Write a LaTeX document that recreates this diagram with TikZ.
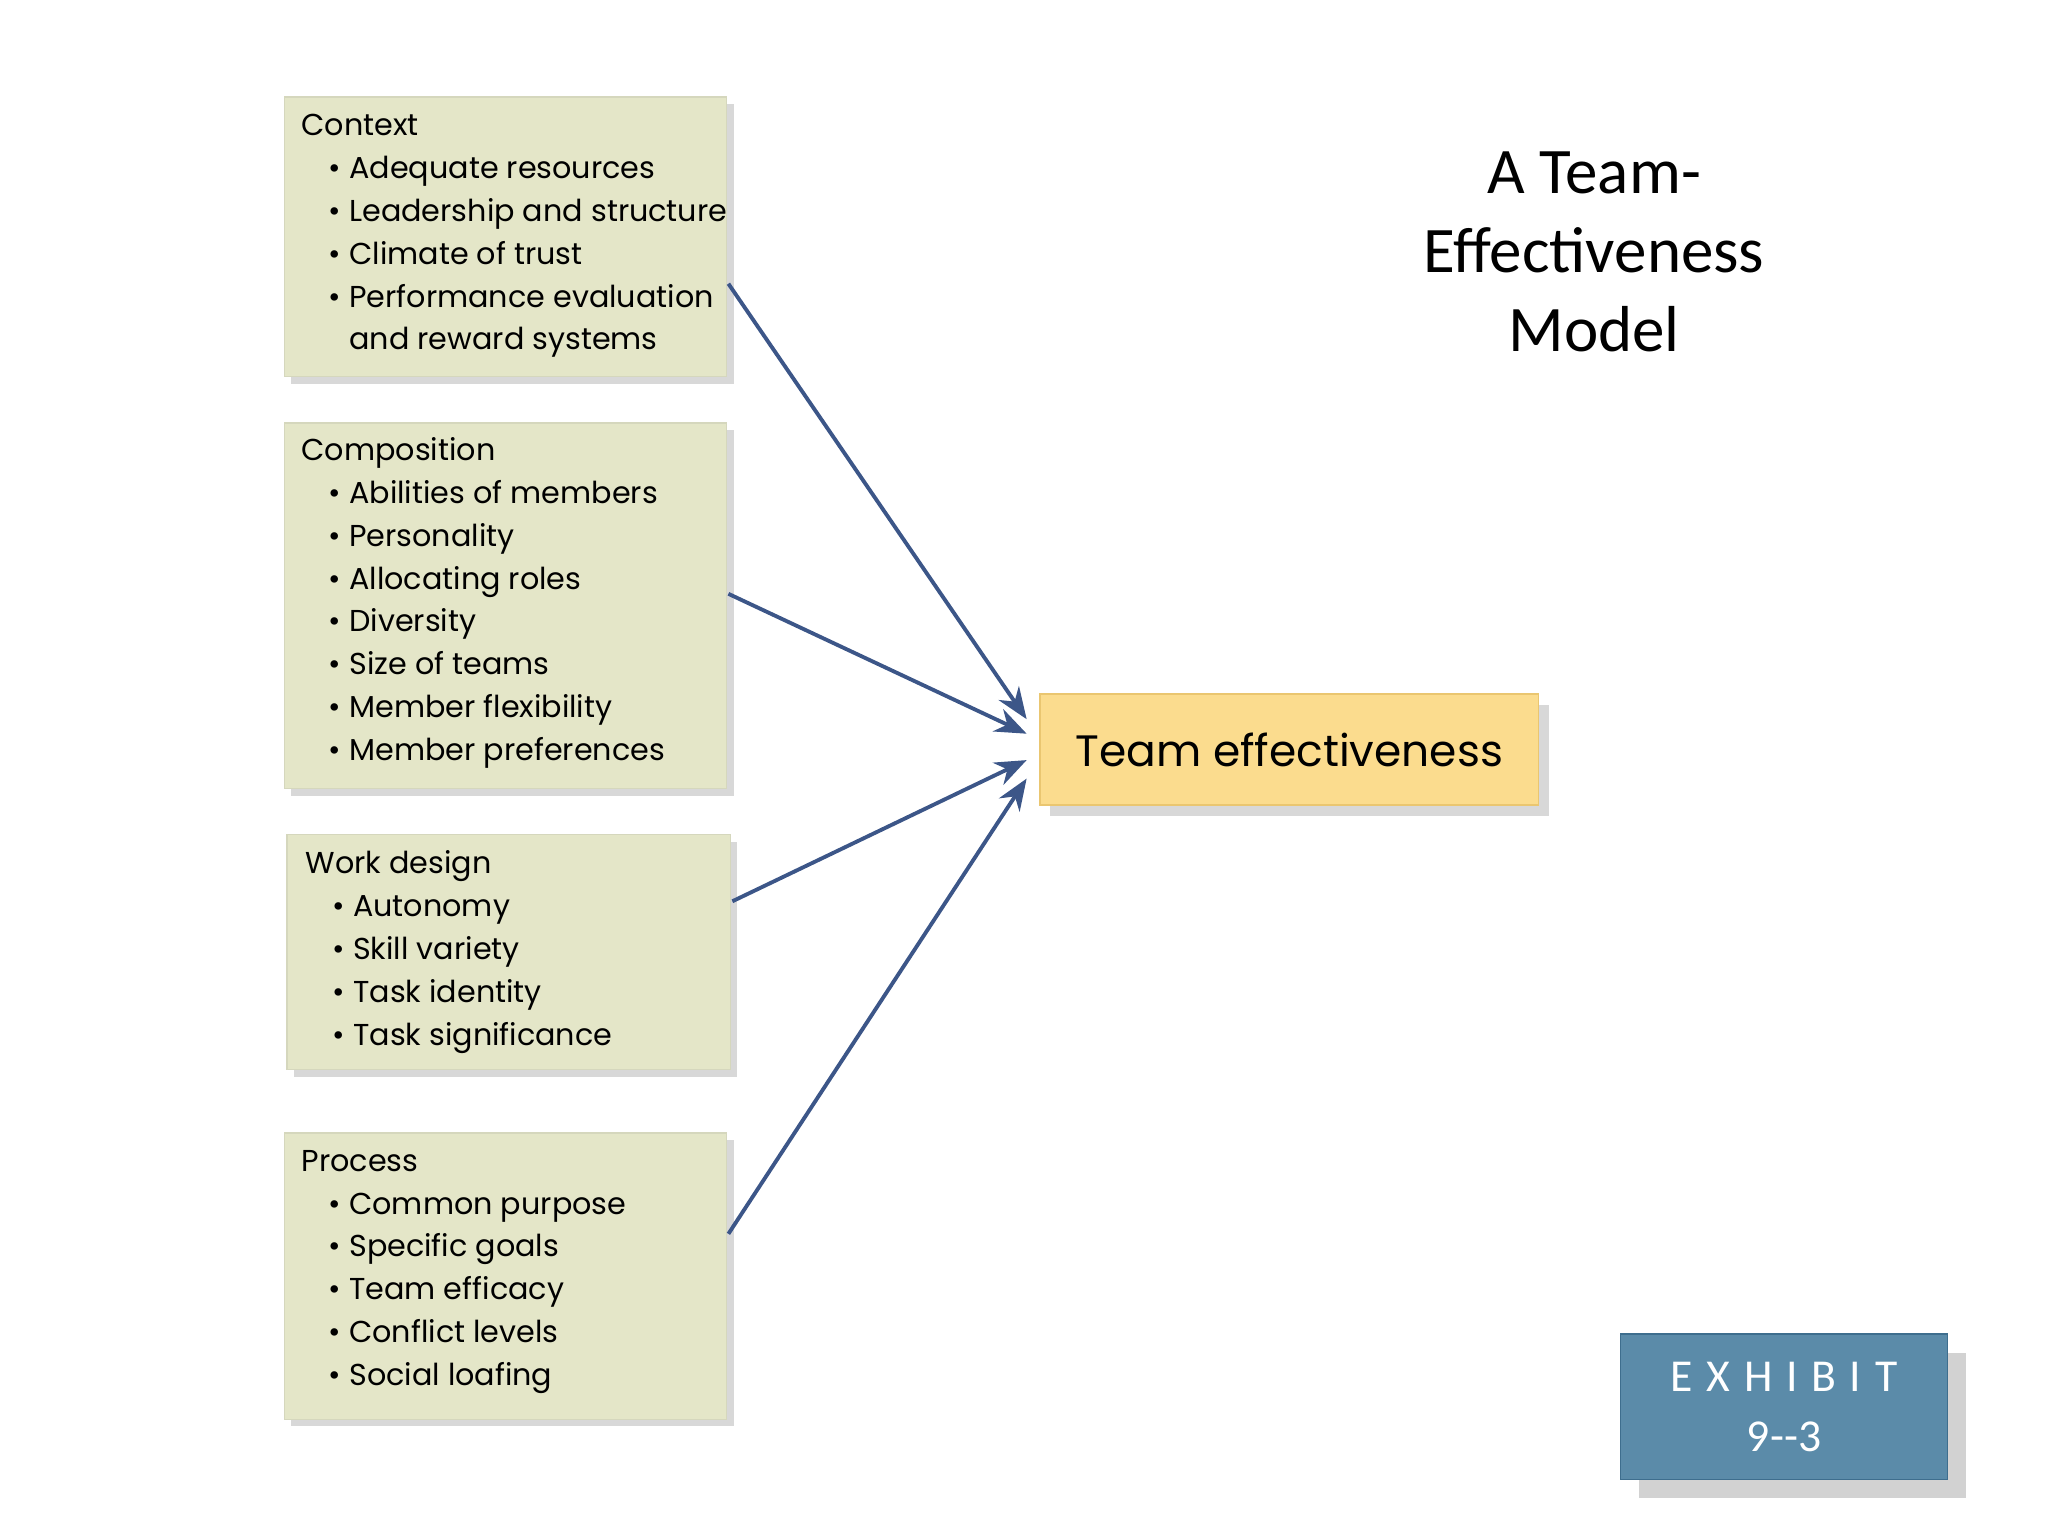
\documentclass[tikz,border=0pt]{standalone}
\usepackage{fontspec}
\setmainfont{Poppins}
\newfontfamily\calib{Carlito}
\usetikzlibrary{shadows,arrows.meta}
\definecolor{boxfill}{HTML}{E4E6C8}
\definecolor{teamfill}{HTML}{FBDC8E}
\definecolor{teamdraw}{HTML}{EAC670}
\definecolor{exfill}{HTML}{5B8BA9}
\definecolor{exdraw}{HTML}{3E6E8E}
\definecolor{arr}{HTML}{3C5688}
\tikzset{
 factor/.style={fill=boxfill, draw=boxfill!85!gray, anchor=north west, inner sep=0pt,
   drop shadow={shadow xshift=2pt, shadow yshift=-2pt, fill=gray!60, opacity=.5}},
 ftext/.style={anchor=north west, align=left, inner sep=0pt, font=\fontsize{8.6}{12.2}\selectfont},
 link/.style={draw=arr, line width=1.1pt, -{Stealth[length=9pt,width=7pt]}}
}
\newcommand{\bl}{\hspace*{0.9em}\textbullet\ }
\begin{document}
\begin{tikzpicture}[x=0.013196cm,y=-0.013196cm]
\useasboundingbox (0,0) rectangle (1552,1164);
% boxes
\node[factor, minimum width=335*0.013196cm, minimum height=212*0.013196cm] (ctx) at (215,73) {};
\node[factor, minimum width=335*0.013196cm, minimum height=277*0.013196cm] (cmp) at (215,320) {};
\node[factor, minimum width=336*0.013196cm, minimum height=178*0.013196cm] (wd) at (217,632) {};
\node[factor, minimum width=335*0.013196cm, minimum height=217*0.013196cm] (prc) at (215,858) {};
\node[ftext] (tctx) at (228,86) {Context\\\bl Adequate resources\\\bl Leadership and structure\\\bl Climate of trust\\\bl Performance evaluation\\\hspace*{0.9em}\phantom{\textbullet\ }and reward systems};
\node[ftext] (tcmp) at (228,331) {Composition\\\bl Abilities of members\\\bl Personality\\\bl Allocating roles\\\bl Diversity\\\bl Size of teams\\\bl Member flexibility\\\bl Member preferences};
\node[ftext] (twd) at (231,644) {Work design\\\bl Autonomy\\\bl Skill variety\\\bl Task identity\\\bl Task significance};
\node[ftext] (tprc) at (228,871) {Process\\\bl Common purpose\\\bl Specific goals\\\bl Team efficacy\\\bl Conflict levels\\\bl Social loafing};
% team effectiveness
\node[fill=teamfill, draw=teamdraw, minimum width=378*0.013196cm, minimum height=84*0.013196cm, inner sep=0pt,
  drop shadow={shadow xshift=3pt, shadow yshift=-3pt, fill=gray!60, opacity=.5},
  font=\fontsize{12.5}{14}\selectfont] (team) at (977,568) {Team effectiveness};
% title
\node[font=\calib\fontsize{18.5}{22.5}\selectfont, align=center] (title) at (1208,191) {A Team-\\Effectiveness\\Model};
% exhibit
\fill[gray!35] (1242,1025) rectangle (1490,1135);
\node[fill=exfill, draw=exdraw, minimum width=248*0.013196cm, minimum height=110*0.013196cm, inner sep=0pt,
  text=white, align=center, font=\calib\fontsize{13}{17}\selectfont] (ex) at (1352,1066) {\addfontfeature{LetterSpace=30}EXHIBIT\\9--3};
% connectors
\coordinate (c1) at (552,215); \coordinate (e1) at (778,545);
\coordinate (c2) at (552,450); \coordinate (e2) at (778,556);
\coordinate (c3) at (555,683); \coordinate (e3) at (778,576);
\coordinate (c4) at (552,935); \coordinate (e4) at (778,590);
\draw[link] (c1) -- (e1);
\draw[link] (c2) -- (e2);
\draw[link] (c3) -- (e3);
\draw[link] (c4) -- (e4);
\end{tikzpicture}
\end{document}
